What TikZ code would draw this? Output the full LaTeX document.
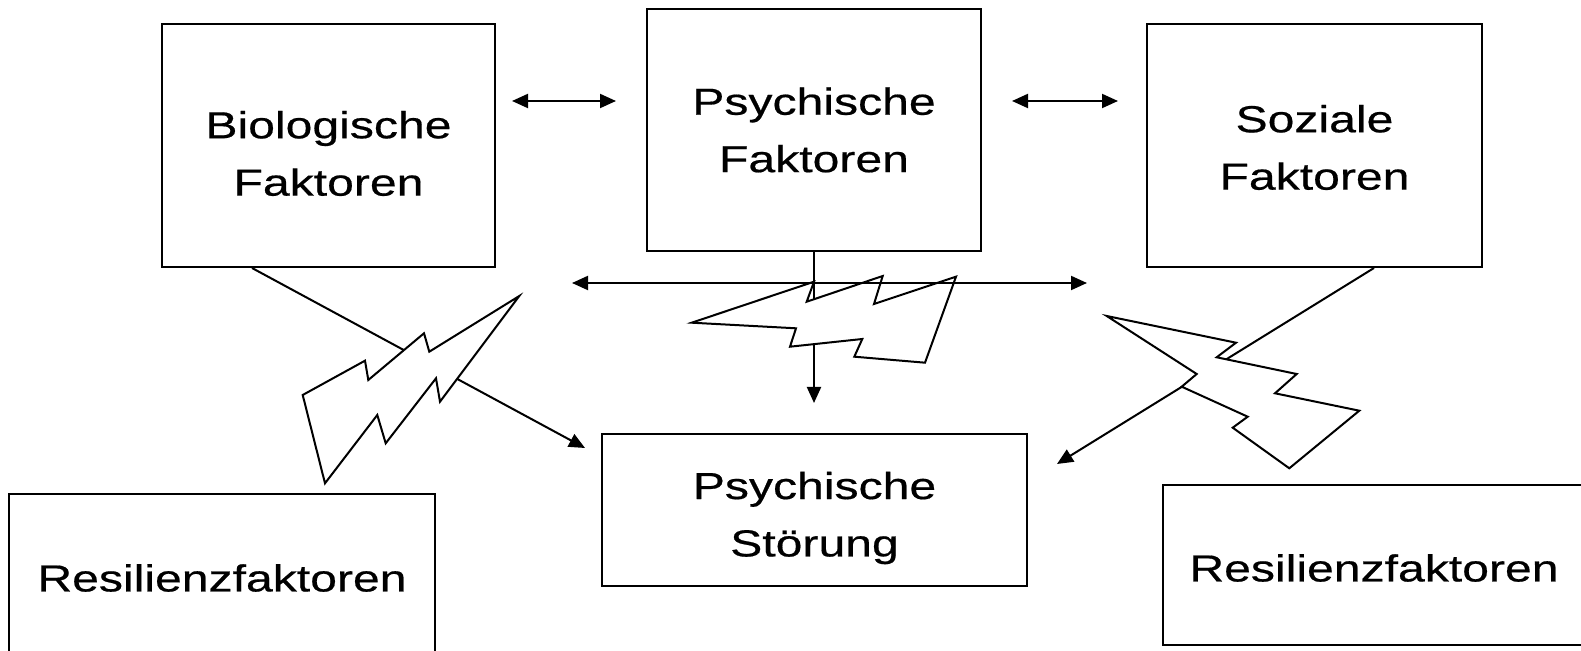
\documentclass[tikz,border=0pt]{standalone}
\usepackage{fontspec}
\newfontfamily\boxfont[FakeStretch=1.28, FakeBold=0.5]{Liberation Sans}
\usepackage{tikz}
\usetikzlibrary{arrows.meta}

\begin{document}
\begin{tikzpicture}[x=0.5pt, y=-0.5pt, line width=1pt,
    >={Triangle[length=8pt, width=7pt]},
    kasten/.style={draw, line width=1pt, inner sep=0pt},
    schrift/.style={inner sep=0pt, align=center,
        font=\boxfont\fontsize{18.8pt}{28.7pt}\selectfont},
    blitz/.style={draw, fill=white, line width=1pt}]

    \useasboundingbox (0,0) rectangle (1581,651);

    % --- Kästen ---
    \node[kasten, minimum width=166.5pt, minimum height=121.5pt] (bio) at (328.5,145.5) {};
    \node[kasten, minimum width=167pt, minimum height=121pt] (psy) at (814,130) {};
    \node[kasten, minimum width=167.5pt, minimum height=121.5pt] (soz) at (1314.5,145.5) {};
    \node[kasten, minimum width=212.5pt, minimum height=76pt] (stoer) at (814.5,510) {};
    \node[kasten, minimum width=213pt, minimum height=86pt] (resL) at (222,580) {};
    \node[kasten, minimum width=211pt, minimum height=80pt] (resR) at (1374,565) {};

    % --- Beschriftungen ---
    \node[schrift] (bioText) at ([yshift=-4pt]bio.center) {Biologische\\Faktoren};
    \node[schrift] (psyText) at (psy.center) {Psychische\\Faktoren};
    \node[schrift] (sozText) at ([yshift=-1pt]soz.center) {Soziale\\Faktoren};
    \node[schrift] (stoerText) at ([yshift=-4pt]stoer.center) {Psychische\\Störung};
    \node[schrift] (resLText) at ([yshift=1pt]resL.center) {Resilienzfaktoren};
    \node[schrift] (resRText) at ([yshift=-1.5pt]resR.center) {Resilienzfaktoren};

    % --- freie Enden ---
    \coordinate (bioEnd) at (585,448);
    \coordinate (psyEnd) at (814,403);
    \coordinate (sozEnd) at (1057,464);
    \coordinate (wwL1) at (512,101);
    \coordinate (wwL2) at (616,101);
    \coordinate (wwR1) at (1012,101);
    \coordinate (wwR2) at (1118,101);
    \coordinate (wwM1) at (572,283);
    \coordinate (wwM2) at (1087,283);

    % --- Einflüsse auf die Störung ---
    \draw[->] ([xshift=45.5pt]bio.south west) -- (bioEnd);
    \draw[->] (psy.south) -- (psyEnd);
    \draw[->] ([xshift=114pt]soz.south west) -- (sozEnd);

    % --- Blitze ---
    \draw[blitz] (519.3,296) -- (429.3,351.7) -- (424,333.3) -- (368.3,380) -- (365,360.7)
        -- (302.7,395) -- (325,483.3) -- (377.3,415) -- (385.7,443.3) -- (436,378.3)
        -- (440,401.7) -- cycle;
    \draw[blitz] (691.7,322.7) -- (814,281.7) -- (806.7,301.7) -- (882.7,276) -- (874,304)
        -- (956,276.7) -- (925,362.7) -- (854.3,356.7) -- (862.3,339) -- (790,346.7)
        -- (796,328.3) -- cycle;
    \draw[blitz] (1106.7,316) -- (1236,342.7) -- (1216.7,357.3) -- (1296.7,374) -- (1275,393.3)
        -- (1359.3,410.7) -- (1289.3,468.3) -- (1232.7,427.7) -- (1247.7,416.7) -- (1181.7,386.7)
        -- (1196.7,374) -- cycle;

    % --- Wechselwirkungen ---
    \draw[<->] (wwL1) -- (wwL2);
    \draw[<->] (wwR1) -- (wwR2);
    \draw[<->] (wwM1) -- (wwM2);

\end{tikzpicture}
\end{document}
